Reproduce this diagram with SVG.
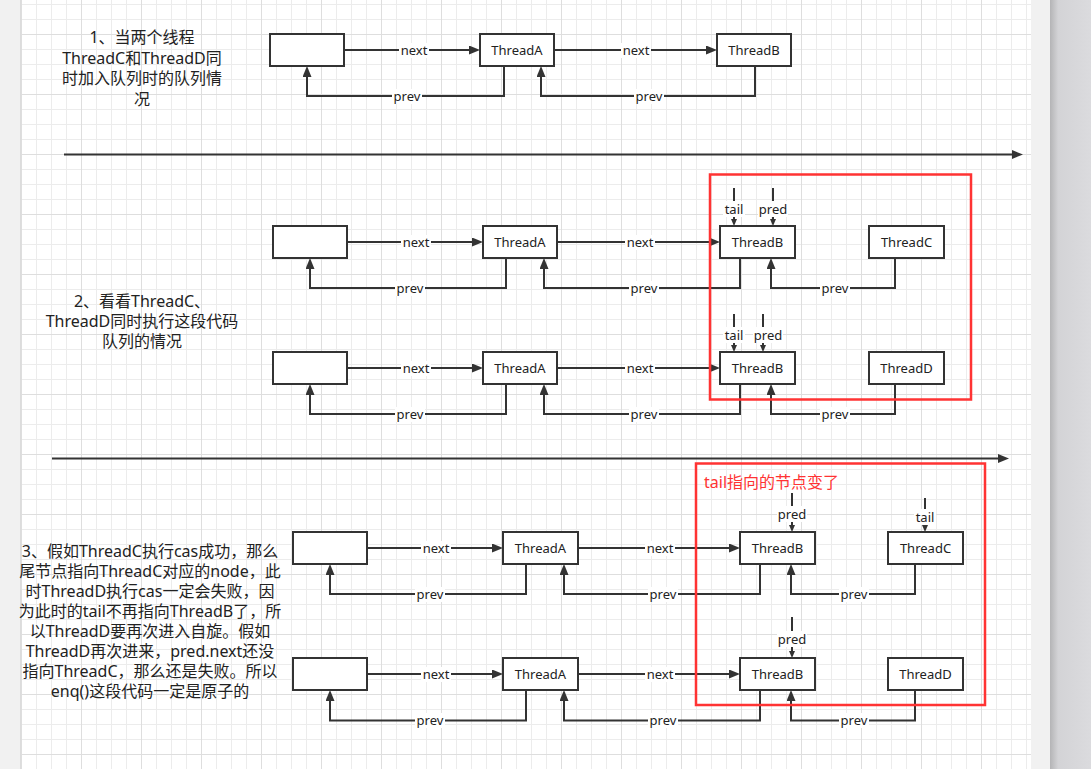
<svg xmlns="http://www.w3.org/2000/svg" width="1091" height="769" viewBox="0 0 1091 769">
<defs>
<pattern id="gMinor" x="21" y="4" width="15" height="15" patternUnits="userSpaceOnUse"><path d="M0.5,0 V15 M0,0.5 H15" stroke="#ececec" stroke-width="1" fill="none"/></pattern>
<pattern id="gMajor" x="21" y="34" width="60" height="60" patternUnits="userSpaceOnUse"><path d="M0.5,0 V60 M0,0.5 H60" stroke="#dedede" stroke-width="1" fill="none"/></pattern>
<linearGradient id="side" x1="0" y1="0" x2="1" y2="0"><stop offset="0" stop-color="#b4b4b6"/><stop offset="0.2" stop-color="#d3d3d6"/><stop offset="1" stop-color="#dbdbde"/></linearGradient>
<marker id="ah" viewBox="0 0 11 9" refX="2" refY="4.5" markerWidth="11" markerHeight="9" markerUnits="userSpaceOnUse" orient="auto"><path d="M0,0 L11,4.5 L0,9 z" fill="#333"/></marker>
<marker id="sh" viewBox="0 0 7 6" refX="2" refY="3" markerWidth="7" markerHeight="6" markerUnits="userSpaceOnUse" orient="auto"><path d="M0,0 L7,3 L0,6 z" fill="#333"/></marker>
<style>
.box{fill:#fff;stroke:#333;stroke-width:2}
.ln{fill:none;stroke:#333;stroke-width:2}
.t{font-family:"Noto Sans","Noto Sans CJK SC",sans-serif;font-size:13px;fill:#222;text-anchor:middle}
.bg{fill:#fff}
.desc{font-family:"Noto Sans","Noto Sans CJK SC",sans-serif;font-size:16px;fill:#222;text-anchor:middle}
.red{fill:none;stroke:#f33;stroke-width:2.5}
.rt{font-family:"Noto Sans","Noto Sans CJK SC",sans-serif;font-size:16px;fill:#f33}
</style>
</defs>
<g id="background">
<rect x="0" y="0" width="1091" height="769" fill="#f1f1f1"/>
<rect x="21" y="0" width="1010" height="769" fill="#fff"/>
<rect x="21" y="0" width="1010" height="769" fill="url(#gMinor)"/>
<rect x="21" y="0" width="1010" height="769" fill="url(#gMajor)"/>
<line x1="20.5" y1="0" x2="20.5" y2="769" stroke="#dcdcdc"/>
<rect x="1050" y="0" width="41" height="769" fill="url(#side)"/>
</g>

<g id="connectors">
<!-- section 1 -->
<path class="ln" d="M344,50 H471" marker-end="url(#ah)"/>
<path class="ln" d="M554,50 H708" marker-end="url(#ah)"/>
<path class="ln" d="M504,66 V96 H307 V75" marker-end="url(#ah)"/>
<path class="ln" d="M755,66 V96 H541 V75" marker-end="url(#ah)"/>
<path class="ln" d="M64,154.5 H1014" marker-end="url(#ah)"/>
<!-- section 2 row 1 -->
<path class="ln" d="M347,242 H474" marker-end="url(#ah)"/>
<path class="ln" d="M557,242 H711" marker-end="url(#ah)"/>
<path class="ln" d="M506,258 V288 H310 V267" marker-end="url(#ah)"/>
<path class="ln" d="M740,258 V288 H544 V267" marker-end="url(#ah)"/>
<path class="ln" d="M895,258 V288 H771 V267" marker-end="url(#ah)"/>
<path class="ln" d="M734,188 V221" marker-end="url(#sh)"/>
<path class="ln" d="M773,188 V221" marker-end="url(#sh)"/>
<!-- section 2 row 2 -->
<path class="ln" d="M347,368 H474" marker-end="url(#ah)"/>
<path class="ln" d="M557,368 H711" marker-end="url(#ah)"/>
<path class="ln" d="M506,384 V414 H310 V393" marker-end="url(#ah)"/>
<path class="ln" d="M740,384 V414 H544 V393" marker-end="url(#ah)"/>
<path class="ln" d="M895,384 V414 H771 V393" marker-end="url(#ah)"/>
<path class="ln" d="M734,314 V347" marker-end="url(#sh)"/>
<path class="ln" d="M763,314 V347" marker-end="url(#sh)"/>
<path class="ln" d="M52,458.5 H1000" marker-end="url(#ah)"/>
<!-- section 3 row 1 -->
<path class="ln" d="M367,548 H494" marker-end="url(#ah)"/>
<path class="ln" d="M578,548 H731" marker-end="url(#ah)"/>
<path class="ln" d="M526,564 V594 H330 V573" marker-end="url(#ah)"/>
<path class="ln" d="M760,564 V594 H564 V573" marker-end="url(#ah)"/>
<path class="ln" d="M915,564 V594 H791 V573" marker-end="url(#ah)"/>
<path class="ln" d="M792,493 V527" marker-end="url(#sh)"/>
<path class="ln" d="M925,498 V527" marker-end="url(#sh)"/>
<!-- section 3 row 2 -->
<path class="ln" d="M367,674 H494" marker-end="url(#ah)"/>
<path class="ln" d="M578,674 H731" marker-end="url(#ah)"/>
<path class="ln" d="M526,690 V720.5 H330 V699" marker-end="url(#ah)"/>
<path class="ln" d="M760,690 V720.5 H564 V699" marker-end="url(#ah)"/>
<path class="ln" d="M915,690 V720.5 H791 V699" marker-end="url(#ah)"/>
<path class="ln" d="M792,617 V653" marker-end="url(#sh)"/>

<!-- labels -->
<g id="labels">
<rect class="bg" x="399" y="43" width="30" height="15"/><text class="t" x="414" y="55">next</text>
<rect class="bg" x="621" y="43" width="30" height="15"/><text class="t" x="636" y="55">next</text>
<rect class="bg" x="392" y="89" width="30" height="15"/><text class="t" x="407" y="101">prev</text>
<rect class="bg" x="634" y="89" width="30" height="15"/><text class="t" x="649" y="101">prev</text>

<rect class="bg" x="401" y="235" width="30" height="15"/><text class="t" x="416" y="247">next</text>
<rect class="bg" x="625" y="235" width="30" height="15"/><text class="t" x="640" y="247">next</text>
<rect class="bg" x="395" y="281" width="30" height="15"/><text class="t" x="410" y="293">prev</text>
<rect class="bg" x="629" y="281" width="30" height="15"/><text class="t" x="644" y="293">prev</text>
<rect class="bg" x="820" y="281" width="30" height="15"/><text class="t" x="835" y="293">prev</text>
<rect class="bg" x="723" y="201" width="22" height="16"/><text class="t" x="734" y="214">tail</text>
<rect class="bg" x="758" y="201" width="30" height="16"/><text class="t" x="773" y="214">pred</text>

<rect class="bg" x="401" y="361" width="30" height="15"/><text class="t" x="416" y="373">next</text>
<rect class="bg" x="625" y="361" width="30" height="15"/><text class="t" x="640" y="373">next</text>
<rect class="bg" x="395" y="407" width="30" height="15"/><text class="t" x="410" y="419">prev</text>
<rect class="bg" x="629" y="407" width="30" height="15"/><text class="t" x="644" y="419">prev</text>
<rect class="bg" x="820" y="407" width="30" height="15"/><text class="t" x="835" y="419">prev</text>
<rect class="bg" x="723" y="327" width="22" height="16"/><text class="t" x="734" y="340">tail</text>
<rect class="bg" x="753" y="327" width="30" height="16"/><text class="t" x="768" y="340">pred</text>

<rect class="bg" x="421" y="541" width="30" height="15"/><text class="t" x="436" y="553">next</text>
<rect class="bg" x="645" y="541" width="30" height="15"/><text class="t" x="660" y="553">next</text>
<rect class="bg" x="415" y="587" width="30" height="15"/><text class="t" x="430" y="599">prev</text>
<rect class="bg" x="648" y="587" width="30" height="15"/><text class="t" x="663" y="599">prev</text>
<rect class="bg" x="839" y="587" width="30" height="15"/><text class="t" x="854" y="599">prev</text>
<rect class="bg" x="777" y="506" width="30" height="16"/><text class="t" x="792" y="519">pred</text>
<rect class="bg" x="914" y="509" width="22" height="16"/><text class="t" x="925" y="522">tail</text>

<rect class="bg" x="421" y="667" width="30" height="15"/><text class="t" x="436" y="679">next</text>
<rect class="bg" x="645" y="667" width="30" height="15"/><text class="t" x="660" y="679">next</text>
<rect class="bg" x="415" y="713" width="30" height="15"/><text class="t" x="430" y="725">prev</text>
<rect class="bg" x="648" y="713" width="30" height="15"/><text class="t" x="663" y="725">prev</text>
<rect class="bg" x="839" y="713" width="30" height="15"/><text class="t" x="854" y="725">prev</text>
<rect class="bg" x="777" y="631" width="30" height="16"/><text class="t" x="792" y="644">pred</text>
</g>
</g>

<!-- section 1 nodes -->
<g id="s1-head"><rect class="box" x="270" y="34" width="74" height="32"/></g>
<g id="s1-threadA"><rect class="box" x="480" y="34" width="74" height="32"/><text class="t" x="517" y="54.5">ThreadA</text></g>
<g id="s1-threadB"><rect class="box" x="717" y="34" width="74" height="32"/><text class="t" x="754" y="54.5">ThreadB</text></g>
<g id="s1-text"><text class="desc"><tspan x="142" y="43">1、当两个线程</tspan><tspan x="142" y="63.5">ThreadC和ThreadD同</tspan><tspan x="142" y="84">时加入队列时的队列情</tspan><tspan x="142" y="104.5">况</tspan></text></g>

<!-- section 2 nodes -->
<g id="s2-text"><text class="desc"><tspan x="142" y="307">2、看看ThreadC、</tspan><tspan x="142" y="327">ThreadD同时执行这段代码</tspan><tspan x="142" y="347">队列的情况</tspan></text></g>
<g id="s2r1-head"><rect class="box" x="273" y="226" width="74" height="32"/></g>
<g id="s2r1-threadA"><rect class="box" x="483" y="226" width="74" height="32"/><text class="t" x="520" y="246.5">ThreadA</text></g>
<g id="s2r1-threadB"><rect class="box" x="720" y="226" width="75" height="32"/><text class="t" x="757.5" y="246.5">ThreadB</text></g>
<g id="s2r1-threadC"><rect class="box" x="869" y="226" width="75" height="32"/><text class="t" x="906.5" y="246.5">ThreadC</text></g>
<g id="s2r2-head"><rect class="box" x="273" y="352" width="74" height="32"/></g>
<g id="s2r2-threadA"><rect class="box" x="483" y="352" width="74" height="32"/><text class="t" x="520" y="372.5">ThreadA</text></g>
<g id="s2r2-threadB"><rect class="box" x="720" y="352" width="75" height="32"/><text class="t" x="757.5" y="372.5">ThreadB</text></g>
<g id="s2r2-threadD"><rect class="box" x="869" y="352" width="75" height="32"/><text class="t" x="906.5" y="372.5">ThreadD</text></g>
<g id="s2-highlight"><rect class="red" x="710" y="174.5" width="261" height="225"/></g>

<!-- section 3 nodes -->
<g id="s3-text"><text class="desc"><tspan x="150" y="557">3、假如ThreadC执行cas成功，那么</tspan><tspan x="150" y="577">尾节点指向ThreadC对应的node，此</tspan><tspan x="150" y="597">时ThreadD执行cas一定会失败，因</tspan><tspan x="150" y="617">为此时的tail不再指向ThreadB了，所</tspan><tspan x="150" y="637">以ThreadD要再次进入自旋。假如</tspan><tspan x="150" y="657">ThreadD再次进来，pred.next还没</tspan><tspan x="150" y="677">指向ThreadC，那么还是失败。所以</tspan><tspan x="150" y="697">enq()这段代码一定是原子的</tspan></text></g>
<g id="s3r1-head"><rect class="box" x="293" y="532" width="74" height="32"/></g>
<g id="s3r1-threadA"><rect class="box" x="503" y="532" width="75" height="32"/><text class="t" x="540.5" y="552.5">ThreadA</text></g>
<g id="s3r1-threadB"><rect class="box" x="740" y="532" width="75" height="32"/><text class="t" x="777.5" y="552.5">ThreadB</text></g>
<g id="s3r1-threadC"><rect class="box" x="888" y="532" width="75" height="32"/><text class="t" x="925.5" y="552.5">ThreadC</text></g>
<g id="s3r2-head"><rect class="box" x="293" y="658" width="74" height="32"/></g>
<g id="s3r2-threadA"><rect class="box" x="503" y="658" width="75" height="32"/><text class="t" x="540.5" y="678.5">ThreadA</text></g>
<g id="s3r2-threadB"><rect class="box" x="740" y="658" width="75" height="32"/><text class="t" x="777.5" y="678.5">ThreadB</text></g>
<g id="s3r2-threadD"><rect class="box" x="888" y="658" width="75" height="32"/><text class="t" x="925.5" y="678.5">ThreadD</text></g>
<g id="s3-highlight"><rect class="red" x="696" y="463.5" width="289" height="241.5"/><text class="rt" x="704" y="488">tail指向的节点变了</text></g>
</svg>
